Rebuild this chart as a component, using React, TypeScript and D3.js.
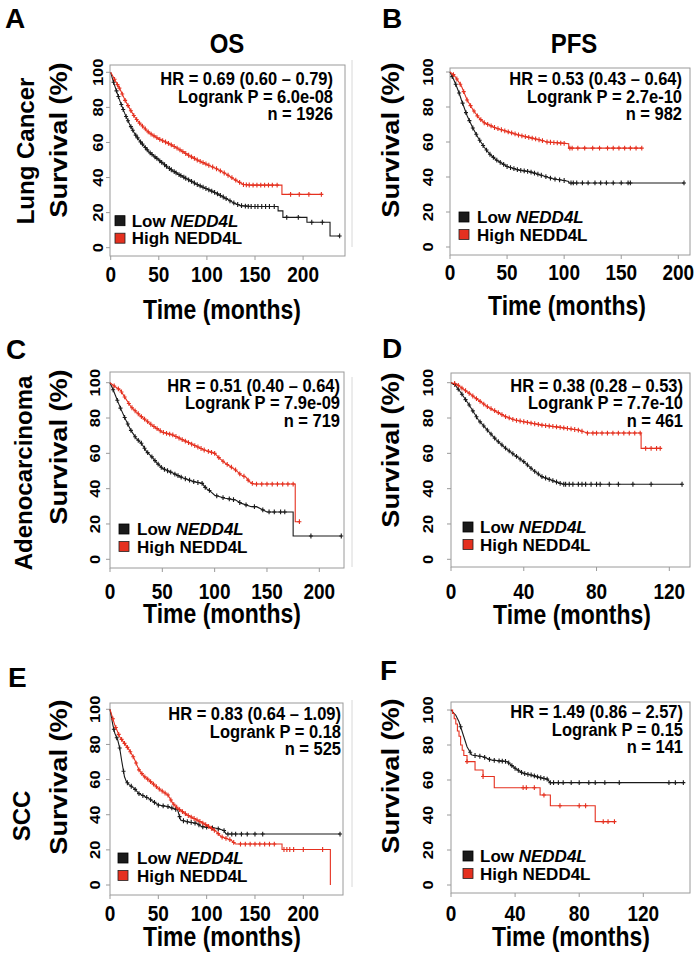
import React from "react";
import * as d3 from "d3";

type Pt = [number, number];

const FONT = "'Liberation Sans', Arial, Helvetica, sans-serif";
const BLACK = "#1a1a1a";
const RED = "#e5301f";
const FRAME = "#9a9a9a";
const STRETCH = 1.18;

// ---------- text ----------
const panelLetters = ["A", "B", "C", "D", "E", "F"];
const columnTitles = ["OS", "PFS"];
const rowLabels = ["Lung Cancer", "Adenocarcinoma", "SCC"];
const hrTexts = [
  "HR = 0.69 (0.60 \u2013 0.79)",
  "HR = 0.53 (0.43 \u2013 0.64)",
  "HR = 0.51 (0.40 \u2013 0.64)",
  "HR = 0.38 (0.28 \u2013 0.53)",
  "HR = 0.83 (0.64 \u2013 1.09)",
  "HR = 1.49 (0.86 \u2013 2.57)",
];
const pTexts = [
  "Logrank P = 6.0e-08",
  "Logrank P = 2.7e-10",
  "Logrank P = 7.9e-09",
  "Logrank P = 7.7e-10",
  "Logrank P = 0.18",
  "Logrank P = 0.15",
];
const nTexts = ["n = 1926", "n = 982", "n = 719", "n = 461", "n = 525", "n = 141"];
const yTicks = [0, 20, 40, 60, 80, 100];
const xTicksWide = [0, 50, 100, 150, 200];
const xTicksNarrow = [0, 40, 80, 120];
const yTitle = "Survival (%)";
const xTitle = "Time (months)";

// ---------- curves (time in months, survival %) ----------
const lowA: Pt[] = [[0,100],[2,96],[5,91],[10,83],[15,76],[20,70],[25,65],[30,61],[40,54.5],[50,50],[60,45.5],[70,42],[80,39],[90,36],[100,33.5],[110,31],[120,28],[128,25.5],[135,24],[145,23.5],[174,23.5],[174,21],[179,21],[179,17.3],[204,17.3],[204,14.5],[228,14.5],[228,6.7],[238,6.7]];
const highA: Pt[] = [[0,100],[3,97],[5,95],[10,90],[15,84],[20,79],[25,74.5],[30,71],[40,65.5],[50,62],[60,59.5],[70,56.5],[80,53],[90,50],[100,47.5],[110,45],[120,42],[130,38.5],[138,36],[145,35.7],[178,35.7],[178,30.4],[219,30.4]];
const lowB: Pt[] = [[0,100],[3,96],[5,93],[8,88],[10,84],[15,75],[20,68],[25,62],[30,57],[35,53],[40,50],[45,48],[50,46],[55,45],[60,44],[70,43],[80,41],[90,39],[100,38],[104,37.5],[104,36.6],[205,36.6]];
const highB: Pt[] = [[0,100],[3,98.5],[5,97],[10,92],[15,84],[20,78.6],[25,74],[30,71],[40,68],[50,66],[60,64],[70,62.5],[80,61],[85,60],[95,59.5],[104,59],[104,56.5],[168,56.5]];
const lowC: Pt[] = [[0,100],[3,96],[5,93],[10,85.6],[15,79],[20,73],[25,68.5],[30,65.7],[35,61],[40,58],[45,54.5],[50,51.5],[60,48.8],[70,46],[80,44],[88,43],[92,40],[95,39],[100,36.3],[110,34.6],[120,33.6],[125,31.8],[135,29.8],[140,29.8],[150,26.8],[175,26.8],[175,13.2],[221,13.2]];
const highC: Pt[] = [[0,100],[5,97.7],[10,95.7],[15,91],[20,86.4],[25,83.5],[30,80.8],[40,76],[50,72],[60,70.4],[70,67.5],[80,64.7],[90,61.9],[100,60],[105,57],[110,54.5],[120,50.6],[125,47.8],[130,46.5],[133,44],[137,42.6],[177,42.6],[177,21.3],[181,21.3]];
const lowD: Pt[] = [[0,100],[2,99],[5,95],[10,87.4],[15,79],[20,73.2],[25,67.5],[30,62.9],[35,59],[40,55.3],[45,50.6],[50,46.8],[55,44.9],[60,43],[62,42.5],[127,42.5]];
const highD: Pt[] = [[0,100],[3,99.3],[5,97.7],[10,94],[15,90.2],[20,86.4],[25,83.6],[30,80.8],[35,78.9],[40,77.9],[50,76],[60,74.7],[70,73.2],[75,71.5],[104.5,71.5],[104.5,62.8],[115,62.8]];
const lowE: Pt[] = [[0,100],[3,91],[5,86.3],[8,82.5],[10,78],[12,71],[15,61.6],[17,58.8],[20,57],[25,55],[30,52],[40,49.3],[50,45.5],[60,44.6],[70,42.7],[73,37],[80,36],[90,35],[95,33.2],[110,32.3],[118,31],[120,29],[238,29]];
const highE: Pt[] = [[0,100],[5,91],[10,84.4],[15,80.6],[20,76.8],[25,72],[30,65.5],[35,62],[40,59.8],[50,55],[60,51.2],[65,46.5],[70,43.7],[80,39.8],[90,37],[100,34.1],[110,30.4],[115,27.5],[125,25.6],[130,23.3],[178,23.3],[178,20.2],[228,20.2],[228,0]];
const lowF: Pt[] = [[0,100],[3,97],[5,93.3],[8,84.7],[10,79],[13,74.3],[20,73.3],[25,71.4],[35,70.5],[40,66.7],[45,63.8],[50,62.9],[55,61.5],[60,60.5],[62,58.5],[145,58.5]];
const highF: Pt[] = [[0,100],[1,98],[2,95],[3,92],[4,88],[5,85],[6,80],[7,77],[8,74],[10,70.5],[15,65.7],[20,62],[27,55.6],[55.6,51.4],[62,45.3],[90,36.2],[102,36.2]];

// ---------- censoring times ----------
const cenLowA = [3,6,8,11,13,16,18,21,23,26,28,31,33,36,38,41,43,46,48,51,53,56,58,61,63,66,68,71,73,76,78,81,84,87,90,93,96,99,102,105,108,111,114,117,120,124,128,132,136,140,143,146,150,153,157,161,165,170,183,195,209,220,238];
const cenHighA = [4,7,9,12,15,18,21,24,27,30,33,36,39,42,45,48,51,54,57,60,63,66,69,72,75,78,81,84,87,90,93,96,99,102,106,110,114,118,122,126,130,134,138,141,144,148,152,156,160,164,168,173,187,196,206,219];
const cenLowB = [2,5,8,11,14,17,20,23,26,29,32,35,38,41,44,47,50,53,56,59,62,65,68,71,74,77,80,84,88,92,96,100,106,108,111,116,121,127,132,137,143,150,156,158,205];
const cenHighB = [3,6,9,12,15,18,21,24,27,30,33,36,39,42,45,48,51,54,57,60,63,66,69,72,75,78,81,85,88,91,94,97,100,105,107,112,118,125,131,138,143,148,153,158,163,168];
const cenLowC = [3,7,10,14,17,20,24,27,30,33,36,40,43,46,49,52,55,58,62,65,68,72,76,80,84,88,91,95,102,108,114,118,124,130,138,146,152,157,163,167,192,221];
const cenHighC = [4,8,11,14,18,21,24,27,30,33,36,39,42,45,48,51,54,57,60,63,66,69,72,75,78,81,84,87,90,94,97,100,104,108,112,116,120,124,128,132,136,140,145,150,155,160,165,170,175,181];
const cenLowD = [2,4,6,8,10,12,14,16,18,20,22,24,26,28,30,32,34,36,38,40,42,44,46,48,50,52,54,56,58,60,62,63,65,67,70,72,74,77,80,82,87,92,100,110,127];
const cenHighD = [2,4,6,8,10,12,14,16,18,20,22,24,26,28,30,32,34,36,38,40,42,44,46,48,50,52,54,56,58,60,62,64,66,68,70,72,75,78,80,83,86,89,92,95,98,101,104,107,110,113,115];
const cenLowE = [4,7,10,14,18,22,26,30,34,38,42,46,50,55,60,64,68,72,76,80,84,88,92,96,100,106,112,118,122,126,130,136,142,150,158,238];
const cenHighE = [3,6,9,12,15,18,21,24,27,30,33,36,39,42,45,48,51,54,57,60,63,66,69,72,75,78,81,84,87,90,93,96,99,102,105,108,112,116,120,124,128,135,140,145,150,155,160,165,170,180,183,186,190,200,220];
const cenLowF = [6,12,15,18,21,24,27,30,32,34,36,38,40,42,44,46,48,50,52,54,56,58,60,62,64,67,70,75,80,86,90,96,105,136,140,145];
const cenHighF = [10,20,45,47,52,58,68,80,84,95,98,102];

const lowCurves = [lowA, lowB, lowC, lowD, lowE, lowF];
const highCurves = [highA, highB, highC, highD, highE, highF];
const lowCensor = [cenLowA, cenLowB, cenLowC, cenLowD, cenLowE, cenLowF];
const highCensor = [cenHighA, cenHighB, cenHighC, cenHighD, cenHighE, cenHighF];
const highStep = [false, false, false, false, false, true];

// ---------- layout ----------
type Layout = {
  letter: [number, number];
  box: [number, number, number, number];
  xr: [number, number];
  xd: [number, number];
  yr: [number, number];
  ticks: number[];
  ytl: number;
  yt: [number, number];
  xlb: number;
  xt: [number, number];
  stats: [number, number];
  leg: [number, number, number];
};

const layouts: Layout[] = [
  { letter: [5, 28], box: [110, 345, 65, 256], xr: [110.7, 303.1], xd: [0, 200], yr: [247.7, 72.3], ticks: xTicksWide, ytl: 103, yt: [67, 140], xlb: 282, xt: [222, 319], stats: [333, 85], leg: [115, 131.7, 226.7] },
  { letter: [382, 28], box: [450, 690, 68, 255], xr: [450, 678.3], xd: [0, 200], yr: [247, 72], ticks: xTicksWide, ytl: 433, yt: [399, 140], xlb: 280, xt: [567, 315], stats: [682, 85], leg: [459, 477, 223] },
  { letter: [6, 359], box: [110, 344, 372, 568], xr: [110, 319.3], xd: [0, 200], yr: [559.3, 382.7], ticks: xTicksWide, ytl: 100, yt: [67, 447], xlb: 599, xt: [222, 623], stats: [340, 391.7], leg: [119, 137, 535] },
  { letter: [382, 358], box: [451, 690, 373, 567], xr: [451, 669.3], xd: [0, 120], yr: [559.3, 382.7], ticks: xTicksNarrow, ytl: 433, yt: [399, 450], xlb: 599, xt: [572, 624], stats: [683, 391.7], leg: [463, 480, 533] },
  { letter: [8, 687], box: [110, 343, 703, 895], xr: [110, 303.3], xd: [0, 200], yr: [885, 709.3], ticks: xTicksWide, ytl: 100, yt: [67, 777], xlb: 921, xt: [222, 946], stats: [341, 720], leg: [118, 137, 864] },
  { letter: [380, 680], box: [451, 690, 702, 893], xr: [451, 643.3], xd: [0, 120], yr: [885, 710], ticks: xTicksNarrow, ytl: 433, yt: [399, 776], xlb: 921, xt: [571, 946], stats: [683, 718], leg: [463, 480, 862] },
];

const titlePos: [number, number][] = [[227, 53], [574, 53]];
const rowLabelPos: [number, number][] = [[34, 151], [32, 473], [30, 816]];
const artifactLines: [number, number][] = [[60, 247], [377, 567], [700, 887]];

function valueAt(pts: Pt[], t: number, step: boolean): number {
  let v = pts[0][1];
  for (let i = 0; i < pts.length; i++) {
    if (pts[i][0] <= t) v = pts[i][1];
    else {
      if (!step && i > 0) {
        const [t0, v0] = pts[i - 1];
        const [t1, v1] = pts[i];
        return t1 === t0 ? v : v0 + ((v1 - v0) * (t - t0)) / (t1 - t0);
      }
      return v;
    }
  }
  return v;
}

// horizontal text stretched vertically (the figure is taller than its source)
function SText({ x, y, sy = STRETCH, children, ...rest }: any) {
  return (
    <text transform={`translate(${x},${y}) scale(1,${sy})`} {...rest}>
      {children}
    </text>
  );
}
// vertical text (reads bottom to top), stretched along its length
function VText({ x, y, s = STRETCH, children, ...rest }: any) {
  return (
    <text transform={`translate(${x},${y}) rotate(-90) scale(${s},1)`} textAnchor="middle" {...rest}>
      {children}
    </text>
  );
}

function Curve({ pts, cens, step, color, x, y }: { pts: Pt[]; cens: number[]; step: boolean; color: string; x: d3.ScaleLinear<number, number>; y: d3.ScaleLinear<number, number> }) {
  const line = d3
    .line<Pt>()
    .x((d) => x(d[0]))
    .y((d) => y(d[1]))
    .curve(step ? d3.curveStepAfter : d3.curveLinear);
  return (
    <g>
      <path d={line(pts) || ""} fill="none" stroke={color} strokeWidth={1.1} />
      {cens.map((t, i) => {
        const cx = x(t);
        const cy = y(valueAt(pts, t, step));
        return (
          <path key={i} d={`M${cx - 2},${cy}H${cx + 2}M${cx},${cy - 2.4}V${cy + 2.4}`} stroke={color} strokeWidth={1.1} />
        );
      })}
    </g>
  );
}

function Panel({ idx }: { idx: number }) {
  const L = layouts[idx];
  const x = d3.scaleLinear().domain(L.xd).range(L.xr);
  const y = d3.scaleLinear().domain([0, 100]).range(L.yr);
  const [bx0, bx1, by0, by1] = L.box;
  return (
    <g fontFamily={FONT} fontWeight="bold">
      <text x={L.letter[0]} y={L.letter[1]} fontSize={28}>{panelLetters[idx]}</text>
      <rect x={bx0} y={by0} width={bx1 - bx0} height={by1 - by0} fill="#fff" stroke={FRAME} strokeWidth={1} />
      {yTicks.map((v) => (
        <g key={v}>
          <line x1={bx0 - 4} x2={bx0} y1={y(v)} y2={y(v)} stroke={FRAME} />
          <VText x={L.ytl} y={y(v)} fontSize={14}>{v}</VText>
        </g>
      ))}
      {L.ticks.map((v) => (
        <g key={v}>
          <line x1={x(v)} x2={x(v)} y1={by1} y2={by1 + 4} stroke={FRAME} />
          <SText x={x(v)} y={L.xlb} textAnchor="middle" fontSize={19}>{v}</SText>
        </g>
      ))}
      <VText x={L.yt[0]} y={L.yt[1]} fontSize={23}>{yTitle}</VText>
      <SText x={L.xt[0]} y={L.xt[1]} textAnchor="middle" fontSize={23}>{xTitle}</SText>
      <Curve pts={lowCurves[idx]} cens={lowCensor[idx]} step={false} color={BLACK} x={x} y={y} />
      <Curve pts={highCurves[idx]} cens={highCensor[idx]} step={highStep[idx]} color={RED} x={x} y={y} />
      <g fontSize={16.5} textAnchor="end">
        <SText x={L.stats[0]} y={L.stats[1]} sy={1.1}>{hrTexts[idx]}</SText>
        <SText x={L.stats[0]} y={L.stats[1] + 17.5} sy={1.1}>{pTexts[idx]}</SText>
        <SText x={L.stats[0]} y={L.stats[1] + 35} sy={1.1}>{nTexts[idx]}</SText>
      </g>
      <g fontSize={17}>
        <rect x={L.leg[0]} y={L.leg[2] - 11} width={10} height={10} fill={BLACK} stroke="#000" strokeWidth={0.8} />
        <text x={L.leg[1]} y={L.leg[2]}>
          Low <tspan fontStyle="italic">NEDD4L</tspan>
        </text>
        <rect x={L.leg[0]} y={L.leg[2] + 17.5 - 11} width={10} height={10} fill={RED} stroke="#222" strokeWidth={0.8} />
        <text x={L.leg[1]} y={L.leg[2] + 17.5}>High NEDD4L</text>
      </g>
    </g>
  );
}

export default function App() {
  return (
    <svg width={699} height={960} style={{ position: "absolute", left: 0, top: 0, background: "#fff" }}>
      <rect width={699} height={960} fill="#fff" />
      {artifactLines.map(([a, b], i) => (
        <line key={i} x1={352} x2={352} y1={a} y2={b} stroke="#d8d8d8" strokeWidth={1} />
      ))}
      <g fontFamily={FONT} fontWeight="bold" fontSize={24}>
        {columnTitles.map((t, i) => (
          <SText key={t} x={titlePos[i][0]} y={titlePos[i][1]} textAnchor="middle" sy={1.15}>{t}</SText>
        ))}
        {rowLabels.map((t, i) => (
          <VText key={t} x={rowLabelPos[i][0]} y={rowLabelPos[i][1]} s={1}>{t}</VText>
        ))}
      </g>
      {layouts.map((_, i) => (
        <Panel key={i} idx={i} />
      ))}
    </svg>
  );
}
